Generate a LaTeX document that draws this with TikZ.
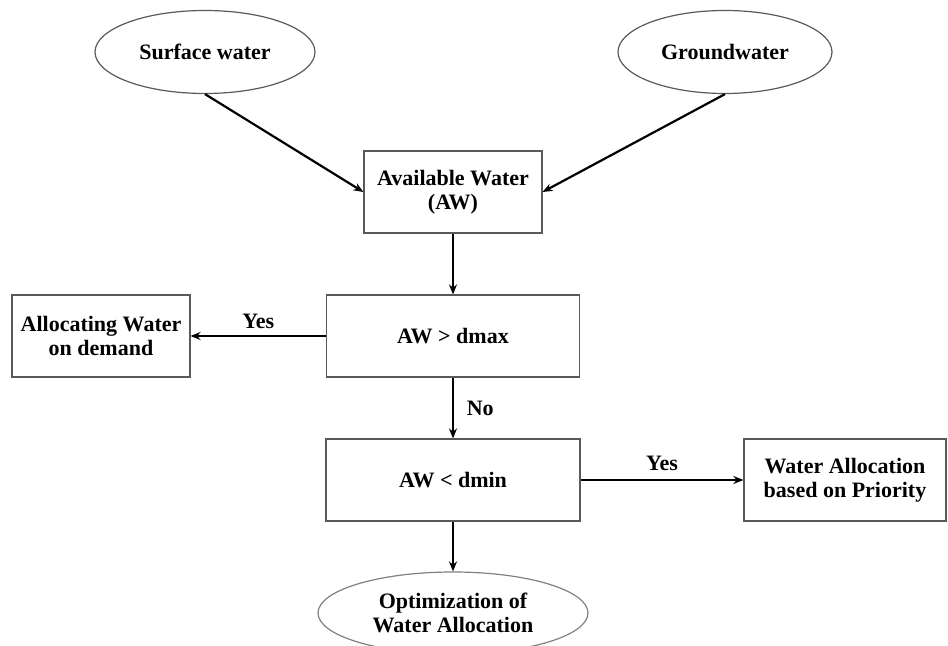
\documentclass[tikz,border=0pt]{standalone}
\usepackage{fontspec}
\setmainfont{Liberation Serif}
\usetikzlibrary{shapes.geometric,arrows.meta}
\begin{document}
\begin{tikzpicture}[x=0.5pt,y=-0.5pt]
 \tikzset{block/.style = {draw=black!65, line width=0.6pt, align=center, inner sep=0pt, font=\bfseries\fontsize{11}{11.8}\selectfont}}
 \tikzset{source/.style = {block, ellipse}}
 \tikzset{flow/.style = {-{Stealth[length=5pt,width=4pt]}, line width=1.1pt}}
 \tikzset{tag/.style = {font=\bfseries\fontsize{11}{12}\selectfont}}
 \def\bh{41pt}

 \useasboundingbox (0,0) rectangle (948,646);

 \node[source, minimum width=110pt, minimum height=41.5pt] (surf) at (205,52) {Surface water};
 \node[source, minimum width=107pt, minimum height=41.5pt] (ground) at (725,52) {Groundwater};
 \node[block, minimum width=89pt, minimum height=\bh] (aw) at (453,192) {Available Water\\(AW)};
 \node[block, minimum width=126.5pt, minimum height=\bh] (dmax) at (453,336) {AW > dmax};
 \node[block, minimum width=89pt, minimum height=\bh] (demand) at (101,336) {Allocating Water\\on demand};
 \node[block, minimum width=127pt, minimum height=\bh] (dmin) at (453,480) {AW < dmin};
 \node[block, minimum width=101pt, minimum height=\bh] (prio) at (845,480) {Water Allocation\\based on Priority};
 \node[source, draw=black!50, minimum width=135pt, minimum height=41pt] (optim) at (453,613) {Optimization of\\Water Allocation};

 \draw[flow] (surf.south) -- (aw.west);
 \draw[flow] (ground.south) -- (aw.east);
 \draw[flow] (aw) -- (dmax);
 \draw[flow] (dmax) -- node[tag, above=0pt] {Yes} (demand);
 \draw[flow] (dmax) -- node[tag, right=3pt] {No} (dmin);
 \draw[flow] (dmin) -- node[tag, above=1pt] {Yes} (prio);
 \draw[flow] (dmin) -- (optim);

\end{tikzpicture}
\end{document}
